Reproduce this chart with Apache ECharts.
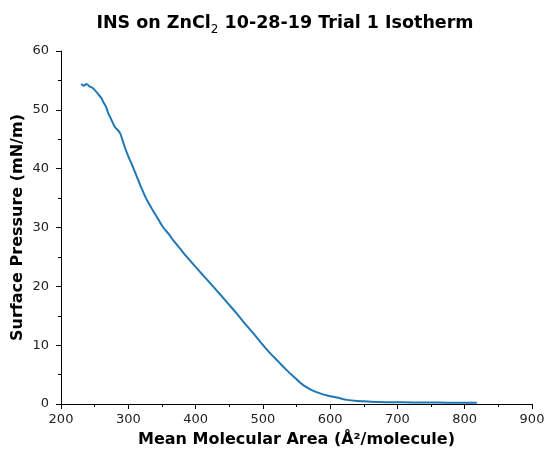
<!DOCTYPE html>
<html>
<head>
	<meta charset="utf-8">
	<title>INS on ZnCl2 isotherm</title>
	<style>
		* { margin: 0; padding: 0; }
		body { background: #fff; }
		#chart { width: 547px; height: 455px; }
	</style>
	<script src="https://cdn.jsdelivr.net/npm/echarts@6/dist/echarts.min.js"></script>
</head>
<body>
<div id="chart"></div>
<script>
	// values (area in A^2/molecule, pressure in mN/m)
	var areaValues = [230, 234, 238, 242, 246, 250, 255, 260, 263, 267, 270, 275, 280, 284, 288, 291, 295, 300, 305, 310, 315, 320, 325,
		330, 335, 345, 352, 360, 367, 377, 387, 397, 407, 418, 429, 436, 448, 461, 473, 486, 498, 511, 523, 535, 548, 560, 572,
		585, 597, 610, 625, 640, 650, 670, 700, 730, 760, 790, 818];
	var pressureValues = [54.4, 54.1, 54.4, 54.0, 53.8, 53.4, 52.7, 52.0, 51.3, 50.5, 49.5, 48.3, 47.1, 46.6, 46.0, 45.0, 43.6, 42.1, 40.8, 39.4, 38.0, 36.6, 35.3,
		34.2, 33.2, 31.3, 30.0, 28.9, 27.8, 26.4, 25.0, 23.7, 22.4, 21.0, 19.6, 18.7, 17.1, 15.4, 13.7, 12.0, 10.3, 8.6, 7.2, 5.8, 4.4, 3.2, 2.4,
		1.8, 1.4, 1.1, 0.7, 0.5, 0.45, 0.35, 0.3, 0.25, 0.25, 0.2, 0.2];

	var xTicks = { min: 200, max: 900, step: 100 };
	var yTicks = { min: 0, max: 60, step: 10 };

	var points = [];
	for (var i = 0; i < areaValues.length; i++) {
		points.push([areaValues[i], pressureValues[i]]);
	}

	var font = 'DejaVu Sans';
	var ink = '#000';

	var chart = echarts.init(document.getElementById('chart'), null, { renderer: 'canvas' });
	chart.setOption({
		animation: false,
		backgroundColor: '#fff',
		title: {
			text: '{a|INS on ZnCl}{s|2}{a| 10-28-19 Trial 1 Isotherm}',
			left: 280, top: 5,
			textAlign: 'center',
			textStyle: {
				rich: {
					a: { fontFamily: font, fontWeight: 'bold', fontSize: 17.5, color: ink, verticalAlign: 'bottom', lineHeight: 22 },
					s: { fontFamily: font, fontWeight: 'normal', fontSize: 12, color: ink, verticalAlign: 'bottom', lineHeight: 22, padding: [0, 0, -4, 0] }
				}
			}
		},
		grid: { left: 61, right: 15, top: 51, bottom: 51, containLabel: false, outerBoundsMode: 'none' },
		xAxis: {
			type: 'value',
			min: xTicks.min, max: xTicks.max, interval: xTicks.step,
			name: 'Mean Molecular Area (Å²/molecule)',
			nameLocation: 'middle', nameGap: 28, nameMoveOverlap: false,
			nameTextStyle: { fontFamily: font, fontWeight: 'bold', fontSize: 16, color: ink },
			axisLine: { lineStyle: { color: ink, width: 1 } },
			axisTick: { inside: false, length: 5, lineStyle: { color: ink } },
			minorTick: { show: true, splitNumber: 2, length: 3, lineStyle: { color: ink } },
			axisLabel: { fontFamily: font, fontSize: 13, color: '#222', margin: 9 },
			splitLine: { show: false }
		},
		yAxis: {
			type: 'value',
			min: yTicks.min, max: yTicks.max, interval: yTicks.step,
			name: 'Surface Pressure (mN/m)',
			nameLocation: 'middle', nameGap: 35, nameRotate: 90, nameMoveOverlap: false,
			nameTextStyle: { fontFamily: font, fontWeight: 'bold', fontSize: 16, color: ink },
			axisLine: { show: true, lineStyle: { color: ink, width: 1 } },
			axisTick: { show: true, inside: false, length: 5, lineStyle: { color: ink } },
			minorTick: { show: true, splitNumber: 2, length: 3, lineStyle: { color: ink } },
			axisLabel: { fontFamily: font, fontSize: 13, color: '#222', margin: 12 },
			splitLine: { show: false }
		},
		series: [{
			type: 'line',
			data: points,
			showSymbol: false,
			smooth: 0.3,
			lineStyle: { color: '#1f77b4', width: 2 }
		}]
	});
</script>
</body>
</html>
